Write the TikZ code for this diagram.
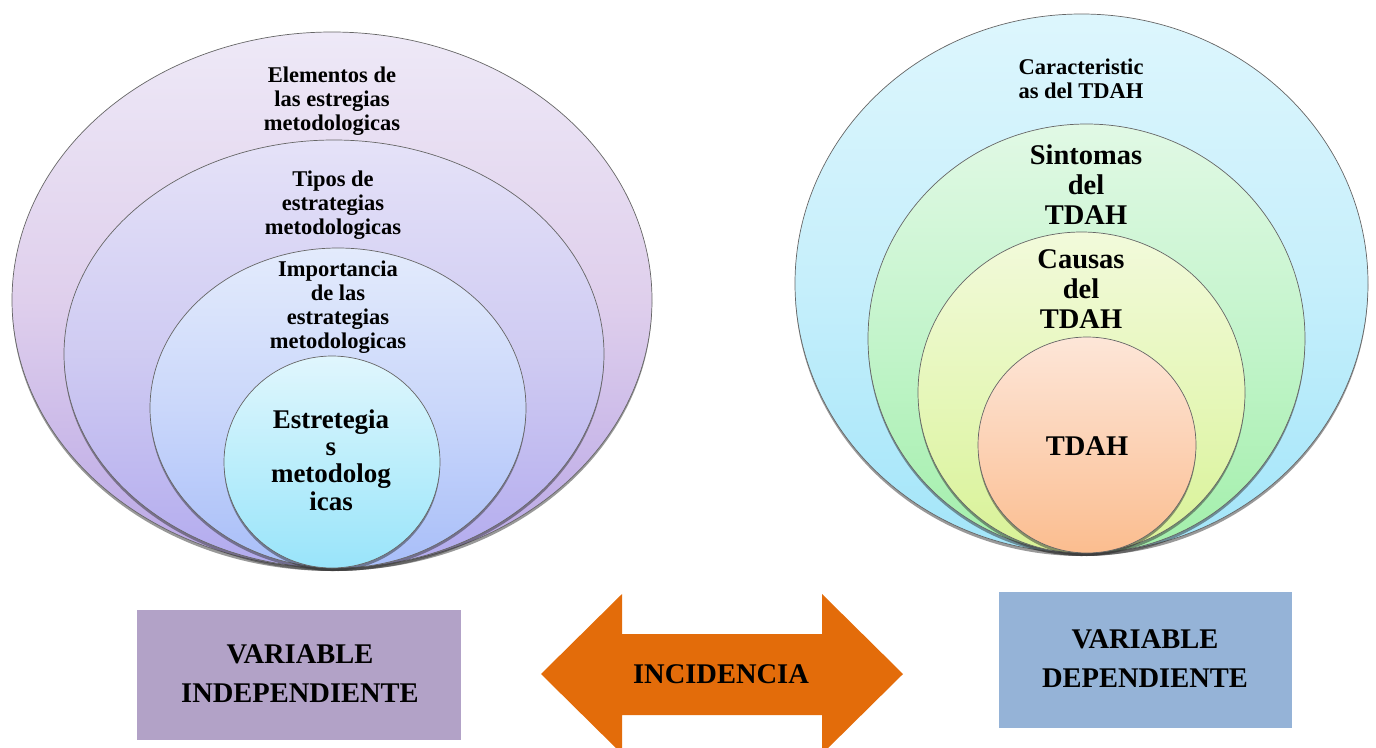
\documentclass[tikz,border=0pt]{standalone}
\usepackage{fontspec}
\setmainfont{Liberation Serif}
\usetikzlibrary{shapes.geometric,shadows}
\tikzset{
  ring/.style={ellipse, draw=black!60, line width=0.7pt, inner sep=0pt, outer sep=0pt,
    shading=axis, drop shadow={shadow xshift=0pt, shadow yshift=-3pt, opacity=0.5, fill=black!80}},
  lblA/.style={font={\fontsize{22.5}{24}\selectfont\bfseries}, align=center, inner sep=0pt},
  lblB/.style={font={\fontsize{27}{27.3}\selectfont\bfseries}, align=center, inner sep=0pt},
  lblC/.style={font={\fontsize{28.5}{30}\selectfont\bfseries}, align=center, inner sep=0pt},
  lblD/.style={font={\fontsize{28.5}{39}\selectfont\bfseries}, align=center, inner sep=0pt},
  varbox/.style={inner sep=0pt, outer sep=0pt, draw=none},
}
\definecolor{boxL}{HTML}{B2A2C7}
\definecolor{boxR}{HTML}{95B3D7}
\definecolor{arrowC}{HTML}{E36C0A}
\begin{document}
\begin{tikzpicture}[x=1pt,y=-1pt]
\useasboundingbox (0,0) rectangle (1376,747);
% left nested ellipses
\node[ring, minimum width=640, minimum height=536, top color={rgb,255:red,238;green,233;blue,247}, bottom color={rgb,255:red,184;green,166;blue,230}, middle color={rgb,255:red,223;green,207;blue,236}] (lo) at (332,300) {};
\node[ring, minimum width=540, minimum height=428, top color={rgb,255:red,229;green,226;blue,248}, bottom color={rgb,255:red,178;green,170;blue,238}, middle color={rgb,255:red,207;green,203;blue,242}] (l2) at (334,354) {};
\node[ring, minimum width=376, minimum height=320, top color={rgb,255:red,227;green,235;blue,252}, bottom color={rgb,255:red,168;green,190;blue,249}, middle color={rgb,255:red,202;green,215;blue,250}] (l3) at (338,408) {};
\node[ring, minimum width=216, minimum height=212, top color={rgb,255:red,224;green,246;blue,253}, bottom color={rgb,255:red,153;green,228;blue,250}, middle color={rgb,255:red,188;green,238;blue,251}] (l4) at (332,462) {};
% right nested circles
\node[ring, minimum width=573, minimum height=539, top color={rgb,255:red,221;green,246;blue,253}, bottom color={rgb,255:red,162;green,229;blue,249}, middle color={rgb,255:red,198;green,239;blue,251}] (ro) at (1081.5,283.5) {};
\node[ring, minimum width=437, minimum height=429, top color={rgb,255:red,225;green,249;blue,229}, bottom color={rgb,255:red,162;green,239;blue,170}, middle color={rgb,255:red,195;green,244;blue,203}] (r2) at (1086.5,338.5) {};
\node[ring, minimum width=327, minimum height=321, top color={rgb,255:red,242;green,250;blue,219}, bottom color={rgb,255:red,216;green,242;blue,150}, middle color={rgb,255:red,230;green,247;blue,186}] (r3) at (1081.5,392.5) {};
\node[ring, minimum width=218, minimum height=216, top color={rgb,255:red,253;green,230;blue,216}, bottom color={rgb,255:red,251;green,189;blue,143}, middle color={rgb,255:red,252;green,210;blue,181}] (r4) at (1087,445) {};
% left labels
\node[lblA] (t1) at (332,101) {Elementos de\\las estregias\\metodologicas};
\node[lblA] (t2) at (333,205) {Tipos de\\estrategias\\metodologicas};
\node[lblA] (t3) at (338,307) {Importancia\\de las\\estrategias\\metodologicas};
\node[lblB] (t4) at (331,460) {Estretegia\\s\\metodolog\\icas};
% right labels
\node[lblA] (u1) at (1081,79) {Caracteristic\\as del TDAH};
\node[lblC] (u2) at (1086,185) {Sintomas\\del\\TDAH};
\node[lblC] (u3) at (1081,289) {Causas\\del\\TDAH};
\node[lblC] (u4) at (1087,446) {TDAH};
% bottom boxes
\node[varbox, fill=boxL, minimum width=324, minimum height=130] (vi) at (299,675) {};
\node[lblD] (vit) at (300,674) {VARIABLE\\INDEPENDIENTE};
\node[varbox, fill=boxR, minimum width=293, minimum height=136] (vd) at (1145,660) {};
\node[lblD] (vdt) at (1145,659) {VARIABLE\\DEPENDIENTE};
% double arrow
\fill[arrowC] (541,674) -- (622,594) -- (622,634) -- (822,634) -- (822,594) -- (903,674)
  -- (822,754) -- (822,715) -- (622,715) -- (622,754) -- cycle;
\node[lblD] (inc) at (721,674) {INCIDENCIA};
\end{tikzpicture}
\end{document}
